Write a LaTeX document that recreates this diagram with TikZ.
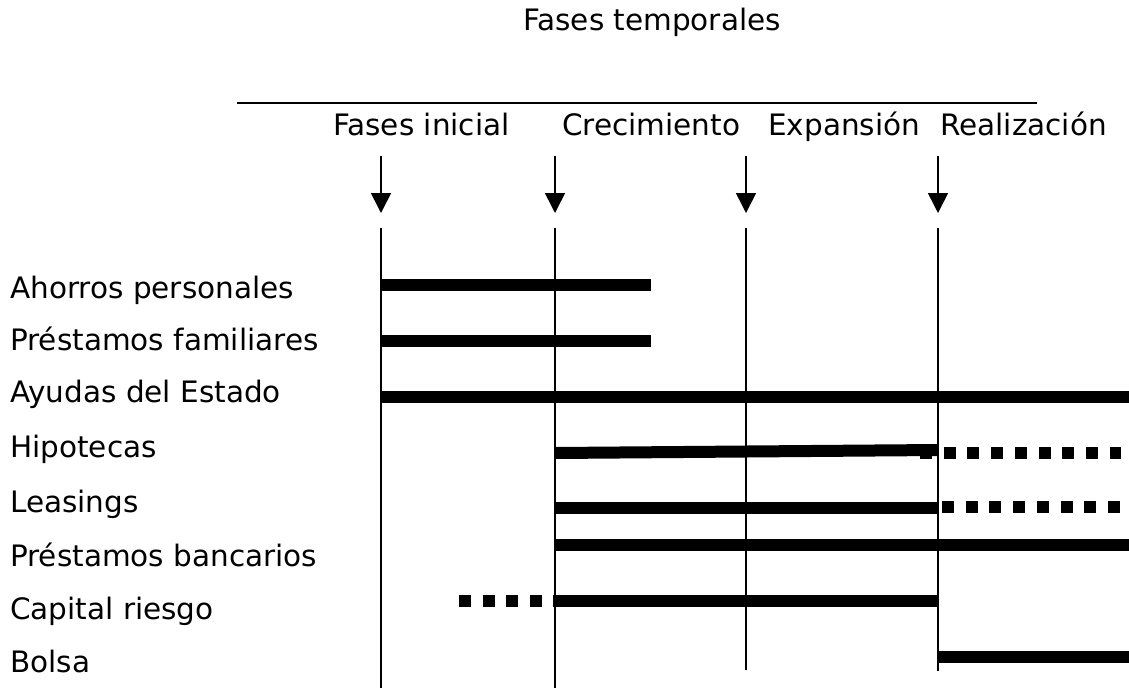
\documentclass[tikz,border=0pt]{standalone}
\usepackage{fontspec}
\setmainfont{DejaVu Sans}
\usetikzlibrary{arrows.meta}
\newcommand{\etiqfont}{\fontsize{29.5}{35}\selectfont}

\begin{document}
\begin{tikzpicture}[x=1pt, y=-1pt,
    etiq/.style={anchor=base west, inner sep=0pt, font=\etiqfont},
    fase/.style={line width=1.6pt},
    flecha/.style={-{Triangle[width=20pt,length=20pt]}, line width=1.6pt},
    barra/.style={line width=12pt},
    punteada/.style={line width=12pt, dash pattern=on 12pt off 11.7pt}
]
\useasboundingbox (0,0) rectangle (1129,688);

% titulo y fases
\node[inner sep=0pt, anchor=base, font=\etiqfont] (titulo) at (652,30) {Fases temporales};
\coordinate (regla-i) at (237,103);
\coordinate (regla-d) at (1037,103);
\draw[line width=1.4pt] (regla-i) -- (regla-d);

\node[etiq] (inicial) at (333,135) {Fases inicial};
\node[etiq] (crec) at (562,135) {Crecimiento};
\node[etiq] (expan) at (768,135) {Expansión};
\node[etiq] (realiz) at (940,135) {Realización};

% flechas y lineas de fase
\coordinate (f1) at (381,156); \coordinate (p1) at (381,213);
\coordinate (f2) at (555,156); \coordinate (p2) at (555,213);
\coordinate (f3) at (746,156); \coordinate (p3) at (746,213);
\coordinate (f4) at (938,156); \coordinate (p4) at (938,213);
\draw[flecha] (f1) -- (p1);
\draw[flecha] (f2) -- (p2);
\draw[flecha] (f3) -- (p3);
\draw[flecha] (f4) -- (p4);

\coordinate (l1a) at (381,228); \coordinate (l1b) at (381,688);
\coordinate (l2a) at (555,228); \coordinate (l2b) at (555,688);
\coordinate (l3a) at (746,228); \coordinate (l3b) at (746,670);
\coordinate (l4a) at (938,228); \coordinate (l4b) at (938,671);
\draw[fase] (l1a) -- (l1b);
\draw[fase] (l2a) -- (l2b);
\draw[fase] (l3a) -- (l3b);
\draw[fase] (l4a) -- (l4b);

% fuentes de financiacion
\node[etiq] (ahorros) at (10,298) {Ahorros personales};
\node[etiq] (familia) at (10,350) {Préstamos familiares};
\node[etiq] (ayudas) at (10,402) {Ayudas del Estado};
\node[etiq] (hipot) at (10,457) {Hipotecas};
\node[etiq] (leas) at (10,512) {Leasings};
\node[etiq] (banca) at (10,566) {Préstamos bancarios};
\node[etiq] (riesgo) at (10,619) {Capital riesgo};
\node[etiq] (bolsa) at (10,672) {Bolsa};

% barras
\draw[barra] (382,285) -- (651,285);
\draw[barra] (382,341) -- (651,341);
\draw[barra] (382,397) -- (1129,397);
\draw[punteada] (920,453) -- (1121,453);
\draw[barra] (555,453) -- (938,450);
\draw[barra] (555,508) -- (938,508);
\draw[punteada] (942,507) -- (1121,507);
\draw[barra] (555,545) -- (1129,545);
\draw[punteada] (459,601) -- (543,601);
\draw[barra] (553,601) -- (938,601);
\draw[barra] (938,657) -- (1129,657);
\end{tikzpicture}
\end{document}
